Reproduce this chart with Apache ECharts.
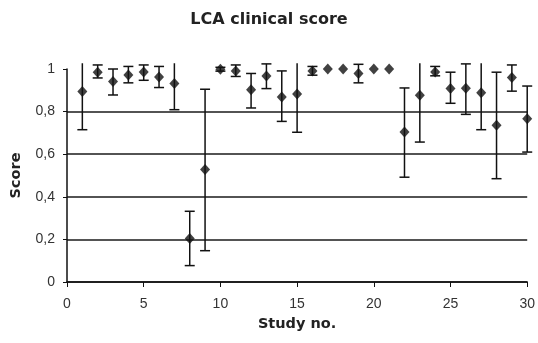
<!DOCTYPE html>
<html>
<head>
<meta charset="utf-8">
<script src="https://cdn.jsdelivr.net/npm/echarts@6/dist/echarts.min.js"></script>
<style>
  html, body { margin: 0; padding: 0; background: #fff; }
  #chart { width: 538px; height: 343px; }
</style>
</head>
<body>
<div id="chart"></div>
<script>
// study numbers and mean clinical score, with error bar ends
var study = [1, 2, 3, 4, 5, 6, 7, 8, 9, 10, 11, 12, 13, 14, 15,
             16, 17, 18, 19, 20, 21, 22, 23, 24, 25, 26, 27, 28, 29, 30];
var score = [0.894, 0.985, 0.941, 0.972, 0.986, 0.963, 0.932, 0.204, 0.528, 0.999,
             0.991, 0.902, 0.967, 0.869, 0.883, 0.991, 1.0, 1.0, 0.979, 1.0,
             1.0, 0.704, 0.877, 0.986, 0.908, 0.91, 0.889, 0.736, 0.96, 0.767];
var lower = [0.715, 0.958, 0.878, 0.935, 0.947, 0.913, 0.809, 0.077, 0.147, 0.99,
             0.965, 0.817, 0.908, 0.754, 0.703, 0.971, null, null, 0.935, null,
             null, 0.492, 0.657, 0.968, 0.839, 0.787, 0.715, 0.485, 0.896, 0.61];
var upper = [1.07, 1.019, 1.0, 1.012, 1.019, 1.012, 1.06, 0.332, 0.905, 1.008,
             1.019, 0.979, 1.024, 0.991, 1.06, 1.012, null, null, 1.022, null,
             null, 0.911, 1.1, 1.012, 0.985, 1.024, 1.06, 0.985, 1.019, 0.92];
var xTicks = [0, 30, 5];      // min, max, step
var yTicks = [0, 1, 0.2];
var CLIP_TOP = 1.027;         // bars are cut off just above the plot top

var points = study.map(function (s, i) { return [s, score[i]]; });
var bars = [];
study.forEach(function (s, i) {
  if (lower[i] != null) bars.push([s, lower[i], upper[i]]);
});

var chart = echarts.init(document.getElementById('chart'));

function errBar(params, api) {
  var x = api.value(0), lo = api.value(1), hi = api.value(2);
  var top = Math.min(hi, CLIP_TOP);
  var a = api.coord([x, lo]);
  var b = api.coord([x, top]);
  var half = 5;
  var st = { stroke: '#111', lineWidth: 1.5 };
  var kids = [
    { type: 'line', shape: { x1: a[0], y1: a[1], x2: b[0], y2: b[1] }, style: st },
    { type: 'line', shape: { x1: a[0] - half, y1: a[1], x2: a[0] + half, y2: a[1] }, style: st }
  ];
  if (hi <= CLIP_TOP) {
    kids.push({ type: 'line', shape: { x1: b[0] - half, y1: b[1], x2: b[0] + half, y2: b[1] }, style: st });
  }
  return { type: 'group', children: kids };
}

var option = {
  animation: false,
  backgroundColor: '#fff',
  title: {
    text: 'LCA clinical score',
    left: 'center',
    top: 7,
    textStyle: { fontFamily: 'DejaVu Sans', fontWeight: 'bold', fontSize: 16, color: '#222' }
  },
  grid: { left: 67, right: 10, top: 69, bottom: 61 },
  xAxis: {
    type: 'value',
    min: xTicks[0], max: xTicks[1], interval: xTicks[2],
    name: 'Study no.',
    nameLocation: 'middle',
    nameGap: 35,
    nameTextStyle: { fontFamily: 'DejaVu Sans', fontWeight: 'bold', fontSize: 14.5, color: '#222' },
    axisLine: { show: true, lineStyle: { color: '#111', width: 1.5 } },
    axisTick: { show: true, length: 5, lineStyle: { color: '#111' } },
    axisLabel: { margin: 15, fontFamily: 'Liberation Sans', fontSize: 14, color: '#333' },
    splitLine: { show: false }
  },
  yAxis: {
    type: 'value',
    min: yTicks[0], max: yTicks[1], interval: yTicks[2],
    name: 'Score',
    nameLocation: 'middle',
    nameGap: 43,
    nameTextStyle: { fontFamily: 'DejaVu Sans', fontWeight: 'bold', fontSize: 14.5, color: '#222' },
    axisLine: { show: true, lineStyle: { color: '#111', width: 1.5 } },
    axisTick: { show: true, length: 4, lineStyle: { color: '#111' } },
    axisLabel: {
      margin: 12, fontFamily: 'Liberation Sans', fontSize: 14, color: '#333',
      formatter: function (v) { return String(Math.round(v * 10) / 10).replace('.', ','); }
    },
    splitLine: { show: true, showMaxLine: false, lineStyle: { color: '#1a1a1a', width: 1.5 } }
  },
  series: [
    {
      type: 'custom',
      renderItem: errBar,
      data: bars,
      clip: false,
      z: 2
    },
    {
      type: 'scatter',
      data: points,
      symbol: 'diamond',
      symbolSize: [10, 11],
      itemStyle: { color: '#111' },
      z: 3
    }
  ]
};

chart.setOption(option);
</script>
</body>
</html>
